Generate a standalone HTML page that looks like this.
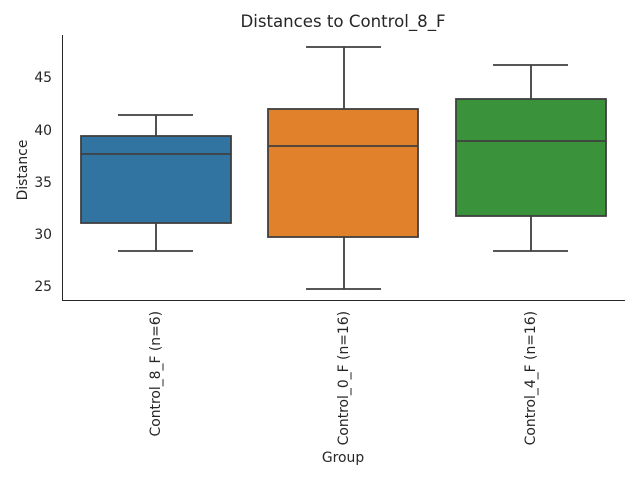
<!DOCTYPE html>
<html><head><style>body{margin:0;background:#fff}svg{display:block}</style></head><body>
<svg width="640" height="480" xmlns="http://www.w3.org/2000/svg" font-family="DejaVu Sans, sans-serif">
<rect width="640" height="480" fill="#fff"/>
<text x="343" y="27" text-anchor="middle" font-size="16.6" fill="#262626">Distances to Control_8_F</text>
<g stroke="#262626" stroke-width="1">
<line x1="62.5" y1="35" x2="62.5" y2="300.5"/>
<line x1="62" y1="300.5" x2="625" y2="300.5"/>
</g>
<g font-size="13.9" fill="#262626" text-anchor="end">
<text x="52" y="82">45</text>
<text x="52" y="135">40</text>
<text x="52" y="187">35</text>
<text x="52" y="239">30</text>
<text x="52" y="291">25</text>
</g>
<text transform="translate(27,170) rotate(-90)" text-anchor="middle" font-size="13.9" fill="#262626">Distance</text>
<text x="343" y="462" text-anchor="middle" font-size="13.9" fill="#262626">Group</text>
<g font-size="13.9" fill="#262626" text-anchor="end">
<text transform="translate(160,311) rotate(-90)">Control_8_F (n=6)</text>
<text transform="translate(348,311) rotate(-90)">Control_0_F (n=16)</text>
<text transform="translate(535,311) rotate(-90)">Control_4_F (n=16)</text>
</g>
<g stroke="#3f3f3f" stroke-width="1.8">
<line x1="156" y1="251" x2="156" y2="223"/><line x1="156" y1="136" x2="156" y2="115"/>
<line x1="118" y1="251" x2="193" y2="251"/><line x1="118" y1="115" x2="193" y2="115"/>
<rect x="81" y="136" width="150" height="87" fill="#3274a1"/>
<line x1="81" y1="154" x2="231" y2="154"/>
<line x1="344" y1="289" x2="344" y2="237"/><line x1="344" y1="109" x2="344" y2="47"/>
<line x1="306" y1="289" x2="381" y2="289"/><line x1="306" y1="47" x2="381" y2="47"/>
<rect x="268" y="109" width="150" height="128" fill="#e1812c"/>
<line x1="268" y1="146" x2="418" y2="146"/>
<line x1="531" y1="251" x2="531" y2="216"/><line x1="531" y1="99" x2="531" y2="65"/>
<line x1="493" y1="251" x2="568" y2="251"/><line x1="493" y1="65" x2="568" y2="65"/>
<rect x="456" y="99" width="150" height="117" fill="#3a923a"/>
<line x1="456" y1="141" x2="606" y2="141"/>
</g>
</svg>
</body></html>
